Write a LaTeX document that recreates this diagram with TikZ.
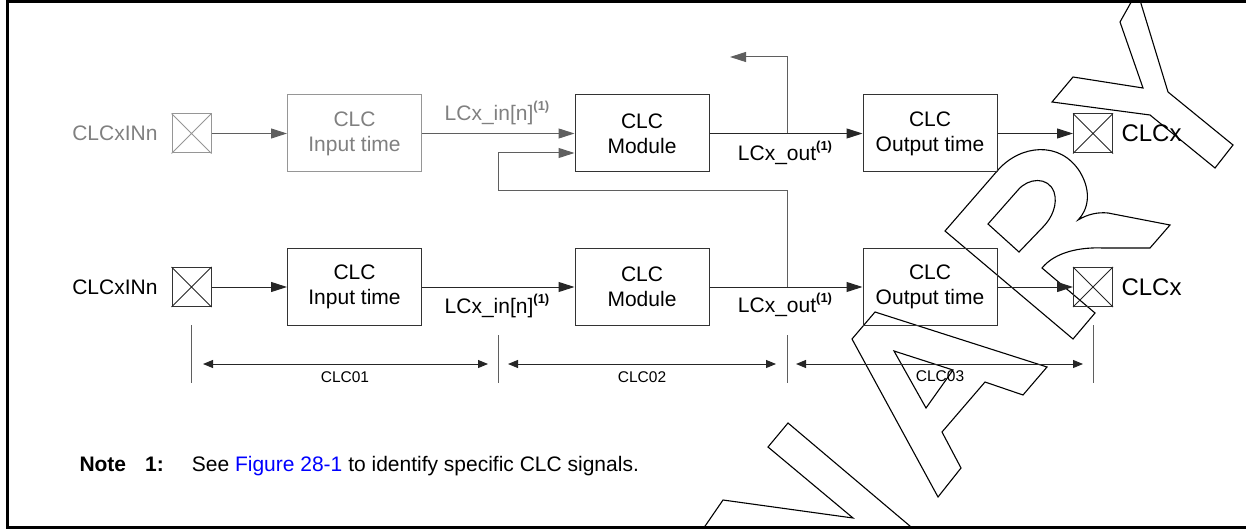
\documentclass[tikz,border=0pt]{standalone}
\usepackage{fontspec}
\setmainfont{Liberation Sans}
\usetikzlibrary{arrows.meta,calc}
\definecolor{gtext}{RGB}{128,128,128}
\definecolor{gbox}{RGB}{150,150,150}
\definecolor{gline}{RGB}{95,95,95}
\definecolor{linkblue}{RGB}{0,0,255}
\newcommand{\supone}{\raisebox{0.5em}{\fontsize{13}{13}\selectfont\bfseries (1)}}
\begin{document}
\begin{tikzpicture}[x=1pt,y=-1pt,line width=1pt,
  box/.style={draw=black!80,minimum width=134pt,minimum height=77pt,inner sep=0pt,align=center,font=\fontsize{21}{25}\selectfont},
  gbx/.style={box,draw=gbox,text=gtext},
  xbox/.style={draw=black!80,minimum size=39pt,inner sep=0pt},
  gxbox/.style={xbox,draw=gbox},
  lbl/.style={inner sep=0pt,font=\fontsize{21}{25}\selectfont},
  lblbig/.style={inner sep=0pt,font=\fontsize{24}{28}\selectfont},
  small/.style={inner sep=0pt,font=\fontsize{15.5}{18}\selectfont},
  arr/.style={draw=black!85,-{Triangle[length=16pt,width=10pt]}},
  garr/.style={draw=gline,-{Triangle[length=16pt,width=10pt]}},
  darr/.style={draw=black!85,{Triangle[length=10pt,width=8pt]}-{Triangle[length=10pt,width=8pt]}},
  wm/.style={line width=1.1pt,line join=miter},
  frame/.style={line width=3pt}]
\useasboundingbox (0,0) rectangle (1246,529);
% watermark
\begin{scope}
\clip (0,0) rectangle (1246,529);
\draw[wm] (875,312) -- (852,339) -- (938,497) -- (961,468) -- (942,432) -- (985,382) -- (1023,395) -- (1047,367) -- cycle;
\draw[wm] (894,351) -- (953,370) -- (926,408) -- cycle;
\draw[wm] (701,532) -- (723,500) -- (853,518) -- (768,447) -- (788,423) -- (917,532);
\draw[wm] (945,231) -- (998,170) .. controls (1020,145) and (1060,140) .. (1080,172)
  .. controls (1092,192) and (1088,210) .. (1078,220)
  .. controls (1088,214) and (1098,212) .. (1108,213) -- (1170,225) -- (1150,248) -- (1103,248)
  .. controls (1080,247) and (1055,252) .. (1042,268) -- (1095,313) -- (1073,339) -- cycle;
\draw[wm] (988,224) -- (1018,190) .. controls (1028,178) and (1048,176) .. (1054,192)
  .. controls (1058,204) and (1052,218) .. (1043,227) -- (1019,252) -- cycle;
\draw[wm] (1134,-3) -- (1120,22) -- (1143,88) -- (1073,77) -- (1052,102) -- (1150,115) -- (1215,168) -- (1233,145) -- (1168,92) -- (1139,-3);
\end{scope}
% frame
\draw[frame] (1246,1.5) -- (7.5,1.5) -- (7.5,527) -- (1246,527);
% top row (grey)
\node[lbl,text=gtext,anchor=east] (tin1) at (158,133.5) {CLCxINn};
\node[gxbox] (xi1) at (191.5,133.5) {};
\draw[gbox,line width=0.8pt] (xi1.north west) -- (xi1.south east) (xi1.south west) -- (xi1.north east);
\node[gbx] (in1) at (354.5,133.5) {CLC\\Input time};
\node[box] (m1) at (642,133.5) {CLC\\Module};
\node[box] (o1) at (930,133.5) {CLC\\Output time};
\node[xbox] (xo1) at (1093,133.5) {};
\draw[black!85,line width=0.8pt] (xo1.north west) -- (xo1.south east) (xo1.south west) -- (xo1.north east);
\node[lblbig,anchor=west] (tout1) at (1121,133.5) {CLCx};
\node[lbl,text=gtext] (sin1) at (497,113) {LCx\_in[n]\supone};
\node[lbl] (sout1) at (785,153) {LCx\_out\supone};
\draw[garr] (xi1) -- (in1);
\draw[garr] (in1) -- (m1);
\draw[arr] (m1) -- (o1);
\draw[arr] (o1) -- (xo1);
\coordinate (jt) at (787,133.5);
\coordinate (up) at (730,57);
\draw[arr,draw=gline] (jt) |- (up);
% bottom row
\node[lbl,anchor=east] (tin2) at (158,287) {CLCxINn};
\node[xbox] (xi2) at (191.5,287) {};
\draw[black!85,line width=0.8pt] (xi2.north west) -- (xi2.south east) (xi2.south west) -- (xi2.north east);
\node[box] (in2) at (354.5,287) {CLC\\Input time};
\node[box] (m2) at (642,287) {CLC\\Module};
\node[box] (o2) at (930,287) {CLC\\Output time};
\node[xbox] (xo2) at (1093,287) {};
\draw[black!85,line width=0.8pt] (xo2.north west) -- (xo2.south east) (xo2.south west) -- (xo2.north east);
\node[lblbig,anchor=west] (tout2) at (1121,287) {CLCx};
\node[lbl] (sin2) at (497,306) {LCx\_in[n]\supone};
\node[lbl] (sout2) at (785,305) {LCx\_out\supone};
\draw[arr] (xi2) -- (in2);
\draw[arr] (in2) -- (m2);
\draw[arr] (m2) -- (o2);
\draw[arr] (o2) -- (xo2);
% feedback
\coordinate (jb) at (787,287);
\coordinate (fbc) at (498,191);
\coordinate (fbin) at ($(m1.west)+(0,19.5)$);
\draw[arr,draw=gline] (jb) |- (fbc) |- (fbin);
% dimension ticks
\coordinate (k1a) at (191.5,325); \coordinate (k1b) at (191.5,383);
\coordinate (k2a) at (498,335);   \coordinate (k2b) at (498,383);
\coordinate (k3a) at (787,335);   \coordinate (k3b) at (787,383);
\coordinate (k4a) at (1093,325);  \coordinate (k4b) at (1093,383);
\draw[gline] (k1a) -- (k1b);
\draw[gline] (k2a) -- (k2b);
\draw[gline] (k3a) -- (k3b);
\draw[gline] (k4a) -- (k4b);
\coordinate (d1a) at (203,364); \coordinate (d1b) at (488,364);
\coordinate (d2a) at (508,364); \coordinate (d2b) at (776,364);
\coordinate (d3a) at (796,364); \coordinate (d3b) at (1083,364);
\draw[darr] (d1a) -- (d1b);
\draw[darr] (d2a) -- (d2b);
\draw[darr] (d3a) -- (d3b);
\node[small] (l1) at (345,377) {CLC01};
\node[small] (l2) at (642,377) {CLC02};
\node[small] (l3) at (940,376) {CLC03};
% note
\node[anchor=base west,inner sep=0pt,font=\fontsize{21}{24}\selectfont] (note) at (79,471)
  {\textbf{Note\hspace{19pt}1:}\hspace{28pt}See \textcolor{linkblue}{Figure 28-1} to identify specific CLC signals.};
\end{tikzpicture}
\end{document}
